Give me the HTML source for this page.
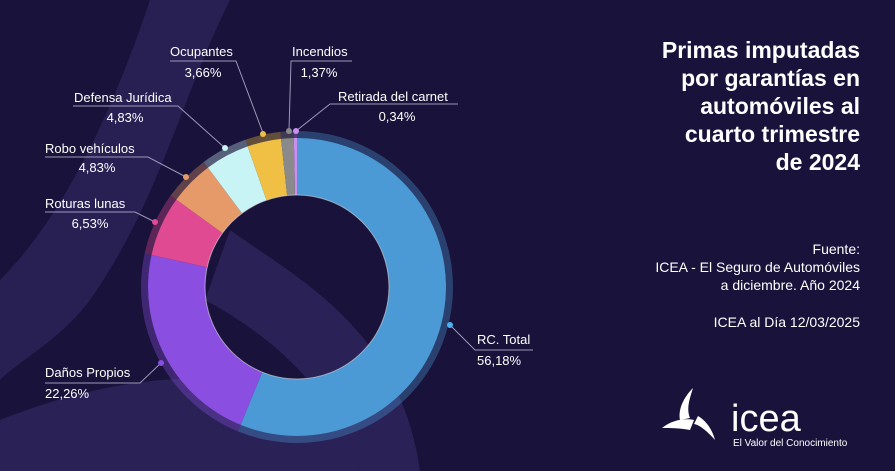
<!DOCTYPE html><html><head><meta charset="utf-8"><style>
body{margin:0;width:895px;height:471px;overflow:hidden;background:#19123a;font-family:"Liberation Sans",sans-serif;color:#fff}
svg{position:absolute;left:0;top:0}
.t{position:absolute;right:35px;text-align:right}
</style></head><body>
<svg width="895" height="471" id="s">
<path d="M150 0 L230 0 C180 100 160 200 90 300 C60 340 20 360 0 380 L0 280 C60 220 110 120 150 0Z" fill="#2a2156" opacity="0.9"/>
<path d="M0 471 L0 420 C100 380 220 360 330 400 C370 420 400 450 410 471Z" fill="#2a2156"/>
<path d="M230 230 C300 280 400 330 420 471 L360 471 C330 380 260 330 205 300Z" fill="#2a2156"/>
<g id="d"></g>
<g stroke="#9a98b8" stroke-width="1" fill="none">
<polyline points="170,61 236,61 263,133"/>
<polyline points="352,61 291,61 289,130"/>
<polyline points="458,104 330,104 296,131"/>
<polyline points="73,106 178,106 225,148"/>
<polyline points="45,157 148,157 186,177"/>
<polyline points="45,212 135,212 155,222"/>
<polyline points="45,383 140,383 161,363"/>
<polyline points="533,350 475,350 450,325"/>
</g>
<g>
<circle cx="263" cy="134" r="3" fill="#efc043"/>
<circle cx="289" cy="131" r="3" fill="#8a8a8a"/>
<circle cx="296" cy="131" r="3" fill="#c98ef0"/>
<circle cx="225" cy="148" r="3" fill="#c8f4f6"/>
<circle cx="186" cy="177" r="3" fill="#e69a6a"/>
<circle cx="155" cy="222" r="3" fill="#e04a93"/>
<circle cx="161" cy="363" r="3" fill="#8a4fe0"/>
<circle cx="450" cy="325" r="3" fill="#4fb0f0"/>
</g>
<g fill="#fff" font-size="13">
<text x="170" y="56">Ocupantes</text><text x="203" y="77" text-anchor="middle">3,66%</text>
<text x="292" y="56">Incendios</text><text x="319" y="77" text-anchor="middle">1,37%</text>
<text x="338" y="101">Retirada del carnet</text><text x="397" y="121" text-anchor="middle">0,34%</text>
<text x="74" y="102">Defensa Jurídica</text><text x="125" y="122" text-anchor="middle">4,83%</text>
<text x="45" y="153">Robo vehículos</text><text x="97" y="172" text-anchor="middle">4,83%</text>
<text x="45" y="208">Roturas lunas</text><text x="90" y="228" text-anchor="middle">6,53%</text>
<text x="45" y="377">Daños Propios</text><text x="45" y="398">22,26%</text>
<text x="477" y="344">RC. Total</text><text x="477" y="365">56,18%</text>
</g>
<g fill="#fff">
<path d="M693 388 C683 398 678 410 680 420 L690 418 C686 408 690 398 693 388Z"/>
<path d="M662 428 C672 420 684 418 694 420 L690 430 C680 428 670 428 662 428Z"/>
<path d="M715 440 C708 432 700 425 694 424 L698 416 C708 422 713 432 715 440Z"/>
</g>
<text x="731" y="431" fill="#fff" font-size="38">icea</text>
<text x="733" y="446" fill="#fff" font-size="10">El Valor del Conocimiento</text>
</svg>
<div class="t" style="top:36px;font-size:23px;font-weight:bold;line-height:28px">Primas imputadas<br>por garantías en<br>automóviles al<br>cuarto trimestre<br>de 2024</div>
<div class="t" style="top:240px;font-size:14px;line-height:18px">Fuente:<br>ICEA - El Seguro de Automóviles<br>a diciembre. Año 2024</div>
<div class="t" style="top:314px;font-size:14px">ICEA al Día 12/03/2025</div>
<script>
var cx=297,cy=287,R=149,r=92,H=156;
var d=[[56.18,"#4b9ad6"],[22.26,"#8a4fe0"],[6.53,"#e04a93"],[4.83,"#e69a6a"],[4.83,"#c8f4f6"],[3.66,"#efc043"],[1.37,"#8a8a8a"],[0.34,"#c98ef0"]];
var g=document.getElementById("d"),a=0,h="";
function p(rad,ang){return [cx+rad*Math.sin(ang),cy-rad*Math.cos(ang)]}
function arc(r1,r2,a1,a2){var l=(a2-a1)>Math.PI?1:0,A=p(r2,a1),B=p(r2,a2),C=p(r1,a2),D=p(r1,a1);
return "M"+A+" A"+r2+" "+r2+" 0 "+l+" 1 "+B+" L"+C+" A"+r1+" "+r1+" 0 "+l+" 0 "+D+"Z";}
d.forEach(function(s){var b=a+s[0]/100*2*Math.PI;
h+='<path d="'+arc(R,H,a,b)+'" fill="'+s[1]+'" opacity="0.35"/>';
h+='<path d="'+arc(r,R,a,b)+'" fill="'+s[1]+'"/>';a=b;});
h+='<circle cx="'+cx+'" cy="'+cy+'" r="'+r+'" fill="none" stroke="#ddd" stroke-width="1" opacity="0.6"/>';
g.innerHTML=h;
</script>
</body></html>
